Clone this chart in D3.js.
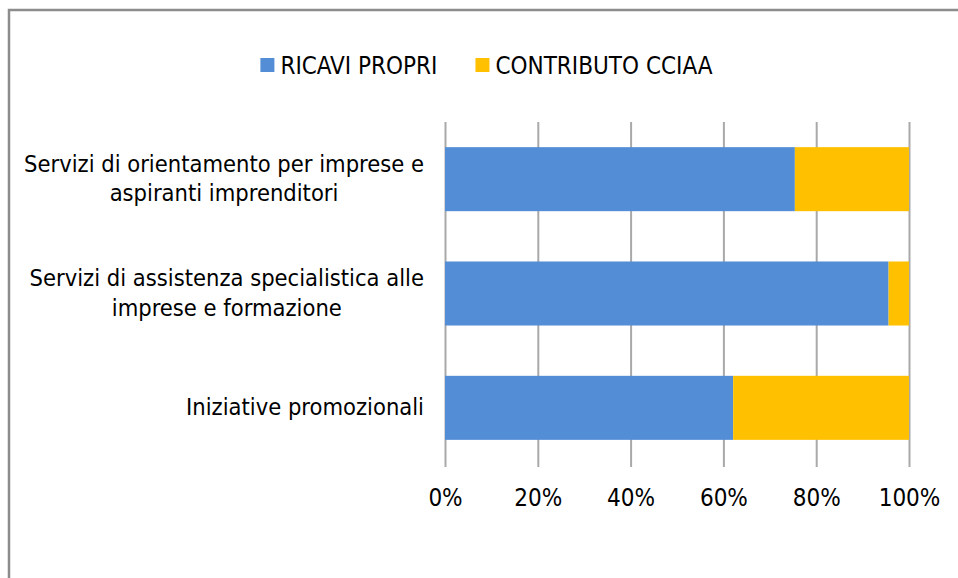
<!DOCTYPE html>
<html>
<head>
<meta charset="utf-8">
<script src="https://cdn.jsdelivr.net/npm/d3@7/dist/d3.min.js"></script>
<style>
  body { margin: 0; background: #fff; }
  text { font-family: "DejaVu Sans", Verdana, sans-serif; font-stretch: condensed; fill: #000; }
</style>
</head>
<body>
<svg id="chart" width="958" height="578"></svg>
<script>
// categories top to bottom, "\n" marks the line break used in the picture
var categories = [
  "Servizi di orientamento per imprese e\naspiranti imprenditori",
  "Servizi di assistenza specialistica alle\nimprese e formazione",
  "Iniziative promozionali"
];
var seriesNames = ["RICAVI PROPRI", "CONTRIBUTO CCIAA"];
var ricaviPropri = [75.4, 95.6, 62.1];
var contributoCciaa = [24.6, 4.4, 37.9];
var tickValues = [0, 20, 40, 60, 80, 100];
var colors = ["#538dd5", "#ffc000"];

var svg = d3.select("#chart");

// outer frame (only left and top edges visible)
svg.append("rect")
  .attr("x", 9).attr("y", 10)
  .attr("width", 1200).attr("height", 1000)
  .attr("fill", "none")
  .attr("stroke", "#8c8c8c")
  .attr("stroke-width", 2.5);

// plot area ("top" is reserved on window, so use p*)
var pLeft = 445, pRight = 909, pTop = 122, pBottom = 465;

var x = d3.scaleLinear().domain([0, 100]).range([pLeft, pRight]);
var y = d3.scaleBand()
  .domain(categories)
  .range([pTop, pBottom])
  .paddingInner(0.44)
  .paddingOuter(0.22);

var data = categories.map(function(c, i) {
  return { category: c, "RICAVI PROPRI": ricaviPropri[i], "CONTRIBUTO CCIAA": contributoCciaa[i] };
});

// gridlines + tick labels via axis
var xAxis = svg.append("g")
  .attr("transform", "translate(0," + pTop + ")")
  .call(d3.axisBottom(x)
    .tickValues(tickValues)
    .tickSize(pBottom - pTop + 2)
    .tickPadding(22)
    .tickFormat(function(d) { return d + "%"; }));
xAxis.select(".domain").remove();
xAxis.selectAll("line").attr("stroke", "#a9a9a9").attr("stroke-width", 2);
xAxis.selectAll("text")
  .style("font-family", '"DejaVu Sans", Verdana, sans-serif')
  .style("font-stretch", "condensed")
  .attr("font-size", 24)
  .attr("fill", "#000");

var stack = d3.stack().keys(seriesNames);
var series = svg.append("g").selectAll("g")
  .data(stack(data))
  .enter().append("g")
    .attr("fill", function(d, i) { return colors[i]; });

series.selectAll("rect")
  .data(function(d) { return d; })
  .enter().append("rect")
    .attr("x", function(d) { return x(d[0]); })
    .attr("y", function(d) { return y(d.data.category); })
    .attr("width", function(d) { return x(d[1]) - x(d[0]); })
    .attr("height", y.bandwidth());

// category labels, lines centered on each other, block right-aligned
var labelRight = 424, lineH = 29.5;
categories.forEach(function(c) {
  var lines = c.split("\n");
  var cy = y(c) + y.bandwidth() / 2;
  var t = svg.append("text").attr("font-size", 23.5).attr("text-anchor", "middle");
  lines.forEach(function(l, i) {
    t.append("tspan").text(l)
      .attr("y", cy + 7.5 + (i - (lines.length - 1) / 2) * lineH);
  });
  var w = d3.max(t.selectAll("tspan").nodes(), function(n) { return n.getComputedTextLength(); });
  t.selectAll("tspan").attr("x", labelRight - w / 2);
});

// legend
var legend = svg.append("g");
var lx = 0;
seriesNames.forEach(function(name, i) {
  var item = legend.append("g").attr("transform", "translate(" + lx + ",0)");
  item.append("rect").attr("x", 0).attr("y", 58).attr("width", 14).attr("height", 14).attr("fill", colors[i]);
  var txt = item.append("text").attr("x", 20).attr("y", 74).attr("font-size", 24).text(name);
  lx += 20 + txt.node().getComputedTextLength() + 38;
});
var legendW = lx - 38;
legend.attr("transform", "translate(" + (486.5 - legendW / 2) + ",0)");
</script>
</body>
</html>
